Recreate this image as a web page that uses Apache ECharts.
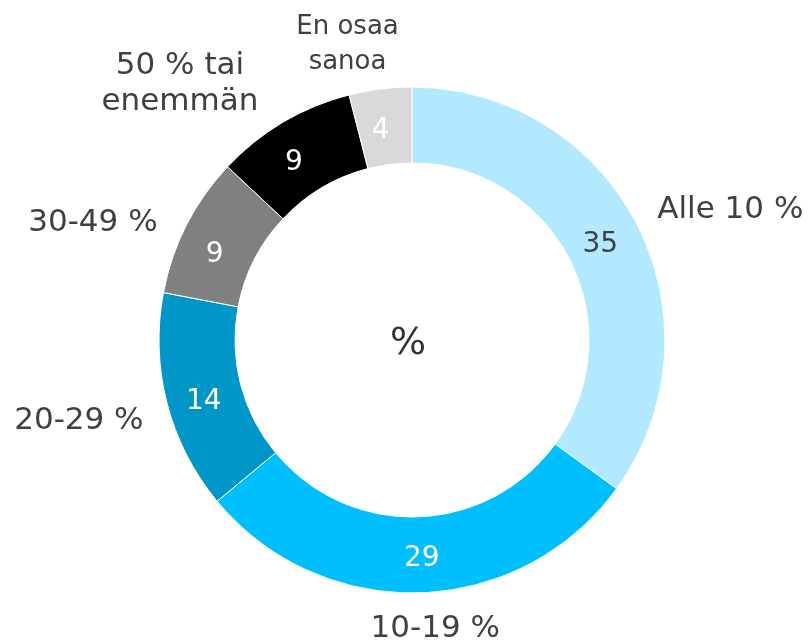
<!DOCTYPE html>
<html lang="fi">
<head>
  <meta charset="UTF-8">
  <title>Donitsi</title>
  <style>
    html, body { margin: 0; padding: 0; background: #fff; }
    #myChart { width: 810px; height: 641px; }
  </style>
</head>
<body>
  <div id="myChart"></div>
  <script src="https://cdn.jsdelivr.net/npm/echarts@6/dist/echarts.min.js"></script>
  <script>
    // luokat ja arvot
    const categories = ['Alle 10 %', '10-19 %', '20-29 %', '30-49 %', '50 % tai\nenemmän', 'En osaa\nsanoa'];
    const values = [35, 29, 14, 9, 9, 4];
    const colors = ['#b3e9ff', '#00bfff', '#0096c8', '#808080', '#000000', '#d9d9d9'];
    const valueColors = ['#404040', '#fff', '#fff', '#fff', '#fff', '#fff'];

    // tekstien siirrot oletuspaikasta [dx, dy]
    const innerShift = [[-6, 4], [3, 1], [3, 8], [-3, 14], [-7, 10], [-4, 7]];
    const outerShift = [[-3, -6], [-55, 16], [1, 13], [-11, 7], [35, -58], [26, -24]];

    const font = 'DejaVu Sans, Verdana, sans-serif';
    const center = [412, 340];
    const radius = [177, 253];

    const innerData = categories.map((name, i) => ({
      name,
      value: values[i],
      itemStyle: { color: colors[i] },
      label: { color: valueColors[i] }
    }));

    const outerData = categories.map((name, i) => ({
      name,
      value: values[i],
      label: name.indexOf('En osaa') === 0 ? { fontSize: 26, lineHeight: 35 } : {}
    }));

    const option = {
      animation: false,
      title: {
        text: '%',
        left: 403,
        top: 339,
        textAlign: 'center',
        textVerticalAlign: 'middle',
        textStyle: { fontFamily: font, fontSize: 38, fontWeight: 'normal', color: '#333' }
      },
      series: [{
        type: 'pie',
        center,
        radius,
        startAngle: 90,
        clockwise: true,
        silent: true,
        itemStyle: { borderColor: '#fff', borderWidth: 1 },
        label: {
          show: true,
          position: 'inside',
          formatter: '{c}',
          fontFamily: font,
          fontSize: 28
        },
        labelLine: { show: false },
        labelLayout(params) {
          const s = innerShift[params.dataIndex];
          return { dx: s[0], dy: s[1] };
        },
        data: innerData
      }, {
        type: 'pie',
        center,
        radius,
        startAngle: 90,
        clockwise: true,
        silent: true,
        itemStyle: { color: 'rgba(0,0,0,0)' },
        label: {
          show: true,
          position: 'outside',
          formatter: '{b}',
          fontFamily: font,
          fontSize: 31,
          lineHeight: 36,
          color: '#404040',
          overflow: 'none'
        },
        labelLine: { show: false, length: 20, length2: 0 },
        labelLayout(params) {
          const r = params.labelRect;
          const s = outerShift[params.dataIndex];
          return {
            x: r.x + r.width / 2 + s[0],
            y: r.y + r.height / 2 + s[1],
            align: 'center',
            verticalAlign: 'middle'
          };
        },
        data: outerData
      }]
    };

    const myChart = echarts.init(document.getElementById('myChart'));
    myChart.setOption(option);
  </script>
</body>
</html>
